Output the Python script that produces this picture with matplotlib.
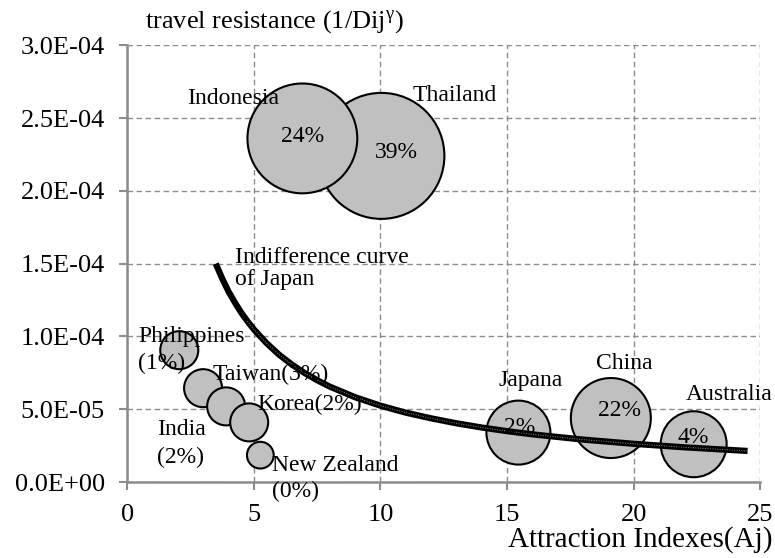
import matplotlib
matplotlib.use('Agg')
import matplotlib.pyplot as plt
import numpy as np

plt.rcParams['font.family'] = ['Liberation Serif', 'DejaVu Serif']
plt.rcParams['mathtext.fontset'] = 'custom'
plt.rcParams['mathtext.rm'] = 'Liberation Serif'
plt.rcParams['mathtext.it'] = 'Liberation Serif:italic'

# bubbles (Thailand first so Indonesia sits on top of it)
countries = ['Thailand', 'Indonesia', 'Philippines', 'Taiwan', 'India', 'Korea',
             'New Zealand', 'Japana', 'China', 'Australia']
attraction = [10.04, 6.92, 2.06, 3.0, 3.91, 4.82, 5.26, 15.45, 19.1, 22.37]
resistance = [2.24e-4, 2.36e-4, 0.906e-4, 0.645e-4, 0.52e-4, 0.41e-4,
              0.185e-4, 0.34e-4, 0.44e-4, 0.26e-4]
bubble_value = [100, 76, 9.1, 9.1, 9.1, 9.1, 4.5, 25.8, 40.3, 27.4]

# indifference curve of Japan
curve_x = [3.5, 3.75, 4.0, 4.25, 4.5, 4.75, 5.0, 5.5, 6.0, 6.5, 7.0, 7.5, 8.0,
           9.0, 10.0, 11.0, 12.0, 13.0, 14.0, 15.0, 16.0, 18.0, 20.0, 22.0, 24.5]
curve_y = [15.0e-5, 14.0e-5, 13.1e-5, 12.35e-5, 11.65e-5, 11.05e-5, 10.5e-5,
           9.55e-5, 8.75e-5, 8.08e-5, 7.5e-5, 7.0e-5, 6.56e-5, 5.83e-5, 5.25e-5,
           4.77e-5, 4.38e-5, 4.04e-5, 3.75e-5, 3.5e-5, 3.28e-5, 2.92e-5, 2.63e-5,
           2.39e-5, 2.14e-5]

yticks = [0, 0.5e-4, 1.0e-4, 1.5e-4, 2.0e-4, 2.5e-4, 3.0e-4]
ytick_labels = ['0.0E+00', '5.0E-05', '1.0E-04', '1.5E-04', '2.0E-04', '2.5E-04', '3.0E-04']

fig = plt.figure(figsize=(7.75, 5.58), dpi=100)
ax = fig.add_axes([0.164, 0.136, 0.817, 0.783])

ax.grid(True, linestyle=(0, (4, 2.5)), color='#8c8c8c', linewidth=1.0, zorder=0)
ax.set_axisbelow(True)

sizes = [v * 82.3 for v in bubble_value]
ax.scatter(attraction, resistance, s=sizes, facecolor='#c0c0c0', edgecolor='black',
           linewidth=1.5, zorder=2)

ax.plot(curve_x, curve_y, color='black', linewidth=4.5, solid_capstyle='butt',
        solid_joinstyle='round', zorder=3)
ax.plot(curve_x[5:], curve_y[5:], color='white', linewidth=0.7,
        linestyle=(0, (1, 1.5)), alpha=0.55, zorder=3)

ax.set_xlim(0, 25)
ax.set_ylim(0, 3.0e-4)
ax.set_xticks([0, 5, 10, 15, 20, 25])
ax.set_yticks(yticks)
ax.set_yticklabels(ytick_labels)
ax.tick_params(axis='both', direction='out', length=6, width=1.5, color='#8c8c8c',
               labelsize=19, pad=10)

for s in ['top', 'right']:
    ax.spines[s].set_visible(False)
for s in ['left', 'bottom']:
    ax.spines[s].set_color('#8c8c8c')
    ax.spines[s].set_linewidth(1.8)

fs = 17
labels = [
    ('Indonesia', 4.19, 2.636e-4, 'center'),
    ('Thailand', 11.26, 2.657e-4, 'left'),
    ('24%', 6.91, 2.375e-4, 'center'),
    ('39%', 10.62, 2.26e-4, 'center'),
    ('Indifference curve', 4.27, 1.545e-4, 'left'),
    ('of Japan', 4.27, 1.394e-4, 'left'),
    ('Philippines', 0.43, 1.002e-4, 'left'),
    ('(1%)', 0.43, 0.817e-4, 'left'),
    ('Taiwan(3%)', 3.36, 0.741e-4, 'left'),
    ('Korea(2%)', 5.13, 0.535e-4, 'left'),
    ('India', 1.18, 0.364e-4, 'left'),
    ('(2%)', 1.18, 0.172e-4, 'left'),
    ('New Zealand', 5.73, 0.117e-4, 'left'),
    ('(0%)', 5.73, -0.062e-4, 'left'),
    ('Japana', 15.95, 0.70e-4, 'center'),
    ('2%', 15.48, 0.378e-4, 'center'),
    ('China', 19.63, 0.817e-4, 'center'),
    ('22%', 19.43, 0.494e-4, 'center'),
    ('Australia', 23.78, 0.604e-4, 'center'),
    ('4%', 22.35, 0.309e-4, 'center'),
]
for txt, x, y, ha in labels:
    ax.text(x, y, txt, fontsize=fs, ha=ha, va='center', zorder=4, clip_on=False)

fig.text(145 / 775, 1 - 22 / 558, r'travel resistance (1/Dij$^{\mathrm{\gamma}}$)',
         fontsize=19, ha='left', va='center')
fig.text(773 / 775, 1 - 540 / 558, 'Attraction Indexes(Aj)', fontsize=21,
         ha='right', va='center')

fig.savefig('out.png', dpi=100)
